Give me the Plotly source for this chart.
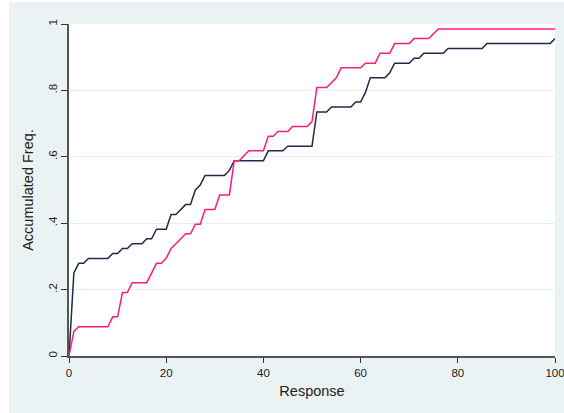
import plotly.graph_objects as go

# Series 1 (navy)
navy_x = [0, 1, 2, 3, 4, 8, 9, 10, 11, 12, 13, 15, 16, 17, 18, 20, 21, 22, 24, 25, 26, 27, 28, 32, 33, 34,
          40, 41, 44, 45, 50, 51, 53, 54, 58, 59, 60, 61, 62, 65, 66, 67, 70, 71, 72, 73, 77, 78, 85, 86, 99, 100]
navy_y = [0, 0.25, 0.279, 0.279, 0.294, 0.294, 0.309, 0.309, 0.324, 0.324, 0.338, 0.338, 0.353, 0.353,
          0.382, 0.382, 0.426, 0.426, 0.456, 0.456, 0.5, 0.515, 0.544, 0.544, 0.559, 0.588,
          0.588, 0.618, 0.618, 0.632, 0.632, 0.735, 0.735, 0.75, 0.75, 0.765, 0.765, 0.794, 0.838, 0.838,
          0.853, 0.882, 0.882, 0.897, 0.897, 0.912, 0.912, 0.926, 0.926, 0.941, 0.941, 0.956]

# Series 2 (pink)
pink_x = [0, 1, 2, 8, 9, 10, 11, 12, 13, 16, 18, 19, 20, 21, 22, 24, 25, 26, 27, 28, 30, 31, 33, 34, 35, 37,
          40, 41, 42, 43, 45, 46, 49, 50, 51, 53, 55, 56, 60, 61, 63, 64, 66, 67, 70, 71, 74, 76, 100]
pink_y = [0, 0.074, 0.088, 0.088, 0.118, 0.118, 0.191, 0.191, 0.221, 0.221, 0.279, 0.279, 0.294, 0.324,
          0.338, 0.368, 0.368, 0.397, 0.397, 0.441, 0.441, 0.485, 0.485, 0.588, 0.588, 0.618,
          0.618, 0.662, 0.662, 0.676, 0.676, 0.691, 0.691, 0.706, 0.809, 0.809, 0.838, 0.868, 0.868,
          0.882, 0.882, 0.912, 0.912, 0.941, 0.941, 0.956, 0.956, 0.985, 0.985]

x_ticks = [0, 20, 40, 60, 80, 100]
y_ticks = [0, 0.2, 0.4, 0.6, 0.8, 1]
y_ticktext = ["0", ".2", ".4", ".6", ".8", "1"]

FONT = "Liberation Sans, Arial, sans-serif"
BG = "#EAF2F3"

fig = go.Figure()
fig.add_trace(go.Scatter(x=navy_x, y=navy_y, mode="lines",
                         line=dict(color="#1F2B4C", width=1.5), showlegend=False))
fig.add_trace(go.Scatter(x=pink_x, y=pink_y, mode="lines",
                         line=dict(color="#FF1A80", width=1.5), showlegend=False))

W, H = 564, 413
ml, mr, mt, mb = 69, 9, 24, 57
pw, ph = W - ml - mr, H - mt - mb

# outer light background (starts slightly inset from the image edge)
fig.add_shape(type="rect", xref="paper", yref="paper",
              x0=(9 - ml) / pw, x1=(W - ml + 5) / pw,
              y0=-(mb + 5) / ph, y1=(H - mb - 2) / ph,
              fillcolor=BG, line_width=0, layer="below")
fig.add_shape(type="rect", xref="paper", yref="paper",
              x0=0, x1=1, y0=0, y1=1,
              fillcolor="white", line_width=0, layer="below")

fig.update_layout(
    width=W, height=H, autosize=False,
    margin=dict(l=ml, r=mr, t=mt, b=mb, autoexpand=False),
    paper_bgcolor="white", plot_bgcolor="white",
    font=dict(family=FONT, color="#222222"),
    xaxis=dict(range=[0, 100], tickvals=x_ticks, ticks="outside", ticklen=5, tickwidth=1,
               tickcolor="#333333", showline=True, linecolor="#555555", linewidth=1.5,
               showgrid=False, zeroline=False, tickfont=dict(size=11.5),
               automargin=False, ticklabeloverflow="allow",
               title=dict(text="Response", font=dict(size=14.5), standoff=8)),
    yaxis=dict(range=[0, 1], tickvals=y_ticks, ticktext=y_ticktext, tickangle=-90,
               ticks="outside", ticklen=6, tickwidth=1, tickcolor="#333333",
               showline=True, linecolor="#555555", linewidth=1.5,
               showgrid=True, gridcolor="#E6EEEF", gridwidth=1, zeroline=False,
               tickfont=dict(size=11.5), ticklabelstandoff=0,
               automargin=False, ticklabeloverflow="allow",
               title=dict(text="Accumulated Freq.", font=dict(size=14.5), standoff=10)),
)

fig.write_html("out.html", config={"displayModeBar": False},
               post_script="document.body.style.margin='0';document.body.style.overflow='hidden';")
